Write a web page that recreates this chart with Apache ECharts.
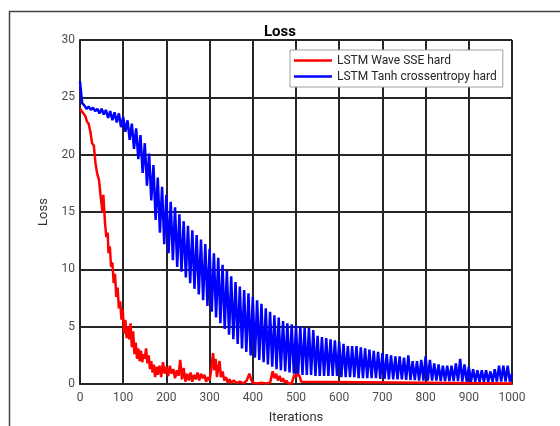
<!DOCTYPE html>
<html lang="en">
<head>
    <meta charset="UTF-8">
    <title>Loss</title>
    <style>
        html, body { margin: 0; padding: 0; background: #fff; }
        #lossChart { width: 560px; height: 426px; }
    </style>
</head>
<body>
<div id="lossChart"></div>
<script src="https://cdn.jsdelivr.net/npm/echarts@6/dist/echarts.min.js"></script>
<script>
    // red curve (LSTM Wave SSE hard)
    var redIter = [0,4,8,12,16,20,24,28,32,36,40,44,48,52,54,58,61,64,66,69,72,75,78,81,84,87,90,93,96,99,
        102,105,108,111,114,117,120,123,126,129,132,135,138,141,144,147,150,153,156,159,162,165,168,171,174,177,180,184,188,192,196,
        200,204,208,212,216,220,224,228,232,236,240,244,248,252,256,260,264,268,272,276,280,284,288,292,296,
        300,304,308,311,314,317,320,323,326,330,334,338,342,346,350,356,362,370,378,386,392,396,
        400,410,420,430,440,446,450,454,458,462,466,470,474,478,482,490,496,500,504,508,512,516,1000];
    var redLoss = [24.0,24.1,23.6,23.4,22.9,22.7,22.0,21.0,20.8,19.2,18.3,17.8,16.3,15.0,16.5,14.0,12.8,13.2,11.4,12.0,10.2,10.6,8.8,9.6,7.6,8.4,6.6,7.2,5.6,6.5,
        4.4,5.6,4.0,5.0,3.9,5.3,3.2,4.6,2.6,3.6,2.2,3.1,2.0,2.9,1.9,2.6,2.2,3.1,1.8,2.5,1.3,2.0,1.0,1.7,0.6,1.5,0.8,1.6,0.6,1.9,0.9,
        1.5,0.7,1.6,0.9,1.3,0.5,1.2,0.7,2.1,0.4,1.4,0.2,0.9,0.3,1.0,0.2,0.8,0.4,1.0,0.3,0.9,0.5,0.8,0.2,0.6,
        0.3,1.3,2.7,1.2,2.2,0.6,1.4,2.0,0.6,1.1,0.3,0.6,0.1,0.4,0.1,0.3,0.1,0.2,0.05,0.3,0.9,0.4,
        0.1,0.05,0.1,0.05,0.1,1.1,0.5,0.9,0.3,0.7,0.2,0.5,0.1,0.3,0.05,0.05,0.8,0.6,0.9,0.7,0.2,0.05,0.05];

    // blue curve (LSTM Tanh crossentropy hard): peaks every 10 iterations, dips 5 iterations later
    var bluePeakIter = [];
    for (var i = 0; i <= 1000; i += 10) bluePeakIter.push(i);
    var bluePeak = [26.4,24.3,24.2,24.1,24.0,24.0,23.9,23.8,23.7,23.6,
        23.3,23.0,22.7,22.3,21.7,21.0,20.1,19.1,18.0,17.2,
        16.5,15.9,15.4,14.8,14.2,13.8,13.4,13.0,12.6,12.2,
        11.8,11.4,11.0,10.4,9.9,9.4,8.9,8.5,8.2,7.9,
        7.6,7.3,7.0,6.6,6.3,6.0,5.8,5.5,5.3,5.2,
        5.1,5.0,4.9,4.9,4.7,4.2,4.1,4.0,3.9,3.8,
        3.7,3.5,3.3,3.3,3.3,3.2,3.1,3.0,2.9,2.8,
        2.7,2.6,2.5,2.4,2.4,2.3,2.5,2.0,2.0,2.1,
        2.4,2.1,1.8,1.7,1.6,1.6,1.6,1.8,2.2,1.7,
        1.5,1.3,1.2,1.2,1.2,1.1,1.3,1.6,1.6,1.6,
        0.9];
    var blueDip = [24.5,24.0,23.9,23.8,23.6,23.5,23.2,23.0,22.8,22.4,
        22.0,21.3,20.5,19.6,18.4,17.3,16.0,14.3,13.2,12.2,
        11.4,10.8,10.2,9.8,9.3,8.8,8.3,7.8,7.3,6.8,
        6.3,5.8,5.3,4.8,4.3,3.9,3.5,3.1,2.8,2.5,
        2.3,2.1,1.9,1.7,1.5,1.3,1.2,1.1,1.0,0.9,
        0.9,0.8,0.8,0.8,0.7,0.7,0.7,0.7,0.7,0.7,
        0.6,0.6,0.6,0.6,0.5,0.5,0.5,0.5,0.5,0.45,
        0.45,0.4,0.4,0.4,0.4,0.35,0.35,0.35,0.3,0.3,
        0.3,0.3,0.3,0.25,0.25,0.25,0.25,0.25,0.2,0.2,
        0.2,0.2,0.2,0.2,0.2,0.2,0.2,0.2,0.2,0.2];

    var xTicks = [0,100,200,300,400,500,600,700,800,900,1000];
    var yTicks = [0,5,10,15,20,25,30];

    var redData = [];
    for (var r = 0; r < redIter.length; r++) redData.push([redIter[r], redLoss[r]]);
    var blueData = [];
    for (var b = 0; b < bluePeakIter.length; b++) {
        blueData.push([bluePeakIter[b], bluePeak[b]]);
        if (b < blueDip.length) blueData.push([bluePeakIter[b] + 5, blueDip[b]]);
    }

    var myChart = echarts.init(document.getElementById('lossChart'), null, {renderer: 'canvas'});
    var fontName = 'Roboto';
    var option = {
        animation: false,
        backgroundColor: '#fff',
        textStyle: {fontFamily: fontName},
        title: {
            text: 'Loss',
            left: 'center',
            top: 20,
            textStyle: {fontSize: 15, fontWeight: 'bold', color: '#000', fontFamily: fontName}
        },
        graphic: [{
            type: 'rect',
            left: 7, top: 9,
            shape: {width: 600, height: 500},
            style: {fill: 'none', stroke: '#444', lineWidth: 1.5},
            silent: true
        }],
        legend: {
            orient: 'vertical',
            left: 290,
            top: 50,
            padding: [4, 6, 4, 4],
            icon: 'rect',
            itemWidth: 38,
            itemHeight: 2.5,
            itemGap: 3,
            backgroundColor: '#fff',
            borderColor: '#a0a0a0',
            borderWidth: 1,
            textStyle: {fontSize: 12, color: '#262626', fontFamily: fontName, lineHeight: 13},
            data: ['LSTM Wave SSE hard', 'LSTM Tanh crossentropy hard']
        },
        grid: {left: 80, top: 40, width: 432, height: 344, containLabel: false, outerBoundsMode: 'none'},
        xAxis: {
            type: 'value',
            min: xTicks[0],
            max: xTicks[xTicks.length - 1],
            interval: xTicks[1] - xTicks[0],
            name: 'Iterations',
            nameLocation: 'middle',
            nameGap: 27,
            nameTextStyle: {fontSize: 13, color: '#333', fontFamily: fontName},
            axisLine: {show: true, lineStyle: {color: '#262626', width: 2}},
            axisTick: {show: false},
            axisLabel: {fontSize: 12, color: '#4d4d4d', margin: 8, fontFamily: fontName,
                formatter: function (v) { return String(v); }},
            splitLine: {show: true, lineStyle: {color: '#262626', width: 2}}
        },
        yAxis: {
            type: 'value',
            min: yTicks[0],
            max: yTicks[yTicks.length - 1],
            interval: yTicks[1] - yTicks[0],
            name: 'Loss',
            nameLocation: 'middle',
            nameGap: 26,
            nameTextStyle: {fontSize: 13, color: '#333', fontFamily: fontName},
            axisLine: {show: true, lineStyle: {color: '#262626', width: 2}},
            axisTick: {show: false},
            axisLabel: {fontSize: 12, color: '#4d4d4d', margin: 5, fontFamily: fontName},
            splitLine: {show: true, lineStyle: {color: '#262626', width: 2}}
        },
        series: [{
            name: 'LSTM Wave SSE hard',
            type: 'line',
            data: redData,
            showSymbol: false,
            symbol: 'none',
            color: '#ff0000',
            lineStyle: {color: '#ff0000', width: 2.5}
        }, {
            name: 'LSTM Tanh crossentropy hard',
            type: 'line',
            data: blueData,
            showSymbol: false,
            symbol: 'none',
            color: '#0000ff',
            lineStyle: {color: '#0000ff', width: 2.5}
        }]
    };
    myChart.setOption(option);
</script>
</body>
</html>
